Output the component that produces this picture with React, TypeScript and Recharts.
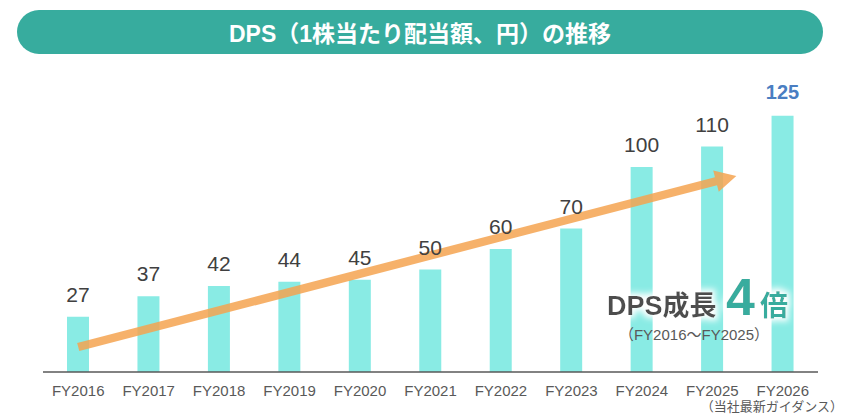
import React from "react";
import { BarChart, Bar, XAxis, YAxis, LabelList, ReferenceLine } from "recharts";

const years = [
  "FY2016", "FY2017", "FY2018", "FY2019", "FY2020", "FY2021",
  "FY2022", "FY2023", "FY2024", "FY2025", "FY2026",
];
const dps = [27, 37, 42, 44, 45, 50, 60, 70, 100, 110, 125];
const guidanceIndex = 10; // FY2026 = company guidance, highlighted

const TITLE = "DPS（1株当たり配当額、円）の推移";
const GROWTH_LABEL = "DPS成長";
const GROWTH_MULTIPLE = "4";
const GROWTH_UNIT = "倍";
const GROWTH_RANGE = "（FY2016～FY2025）";
const FOOTNOTE = "（当社最新ガイダンス）";

// trend arrow, in data units (drawn from FY2016 to just past FY2025)
const ARROW_START = 12.2;
const ARROW_END = 92.6;

const data = years.map((year, i) => ({ year, dps: dps[i] }));

const FONT = "'Liberation Sans', Arial, 'Noto Sans CJK JP', sans-serif";
const TEAL = "#37AC9E";

function XTick({ x, y, payload }: any) {
  return (
    <text x={x} y={y + 24} textAnchor="middle" fontSize={15} fill="#595959" fontFamily={FONT}>
      {payload.value}
    </text>
  );
}

function ValueLabel({ x, y, width, value, index }: any) {
  const hi = index === guidanceIndex;
  return (
    <text
      x={x + width / 2}
      y={y - (hi ? 17 : 15)}
      textAnchor="middle"
      fontSize={hi ? 20 : 21}
      fontWeight={hi ? 700 : 400}
      fill={hi ? "#4A7EC2" : "#404040"}
      fontFamily={FONT}
    >
      {value}
    </text>
  );
}

function ArrowShape({ x1, y1, x2, y2 }: any) {
  const dx = x2 - x1;
  const dy = y2 - y1;
  const len = Math.hypot(dx, dy);
  const ux = dx / len;
  const uy = dy / len;
  const nx = -uy;
  const ny = ux;
  const t = 24 / ux;
  const tx = x2 + ux * t;
  const ty = y2 + uy * t;
  const bx = tx - ux * 21;
  const by = ty - uy * 21;
  const shaft = 4.2;
  const head = 11;
  const pts = [
    [x1 + nx * shaft, y1 + ny * shaft],
    [bx + nx * shaft, by + ny * shaft],
    [bx + nx * head, by + ny * head],
    [tx, ty],
    [bx - nx * head, by - ny * head],
    [bx - nx * shaft, by - ny * shaft],
    [x1 - nx * shaft, y1 - ny * shaft],
  ]
    .map((p) => p.join(","))
    .join(" ");
  return <polygon points={pts} fill="#F4A350" fillOpacity={0.85} />;
}

export default function App() {
  return (
    <div style={{ position: "absolute", left: 0, top: 0, width: 846, height: 419, overflow: "hidden", background: "#fff" }}>
      <div
        style={{
          position: "absolute",
          left: 17,
          top: 10,
          width: 806,
          height: 44,
          borderRadius: 22,
          background: TEAL,
          color: "#fff",
          fontFamily: FONT,
          fontWeight: 700,
          fontSize: 23,
          display: "flex",
          alignItems: "center",
          justifyContent: "center",
        }}
      >
        {TITLE}
      </div>
      <div style={{ position: "absolute", left: 0, top: 0 }}>
        <BarChart width={846} height={419} data={data} margin={{ top: 85, right: 28, bottom: 0, left: 43 }}>
          <XAxis
            dataKey="year"
            height={47}
            tickLine={false}
            tickSize={0}
            tickMargin={0}
            axisLine={{ stroke: "#595959", strokeWidth: 1.5 }}
            tick={<XTick />}
            interval={0}
          />
          <YAxis hide domain={[0, 140]} />
          <Bar dataKey="dps" fill="#89EBE4" barSize={22} isAnimationActive={false}>
            <LabelList dataKey="dps" content={<ValueLabel />} />
          </Bar>
          <ReferenceLine
            segment={[
              { x: years[0], y: ARROW_START },
              { x: years[9], y: ARROW_END },
            ]}
            ifOverflow="visible"
            shape={ArrowShape}
          />
        </BarChart>
      </div>
      <svg width={846} height={419} style={{ position: "absolute", left: 0, top: 0, pointerEvents: "none" }}>
        <defs>
          <filter id="glow" x="-20%" y="-40%" width="140%" height="180%">
            <feMorphology in="SourceAlpha" operator="dilate" radius="3" result="d" />
            <feGaussianBlur in="d" stdDeviation="3" result="b" />
            <feFlood floodColor="#fff" />
            <feComposite in2="b" operator="in" result="w" />
            <feMerge>
              <feMergeNode in="w" />
              <feMergeNode in="SourceGraphic" />
            </feMerge>
          </filter>
        </defs>
        <g filter="url(#glow)" fontFamily={FONT} fontWeight={700}>
          <text x={607} y={315} fontSize={27} fill="#4D4D4D">{GROWTH_LABEL}</text>
          <text x={726} y={315} fontSize={52} fill={TEAL}>{GROWTH_MULTIPLE}</text>
          <text x={760} y={316} fontSize={28} fill={TEAL}>{GROWTH_UNIT}</text>
        </g>
        <text x={694} y={340} textAnchor="middle" fontSize={15} fill="#595959" fontFamily={FONT}>
          {GROWTH_RANGE}
        </text>
        <text x={843} y={411} textAnchor="end" fontSize={13} fill="#595959" fontFamily={FONT}>
          {FOOTNOTE}
        </text>
      </svg>
    </div>
  );
}
